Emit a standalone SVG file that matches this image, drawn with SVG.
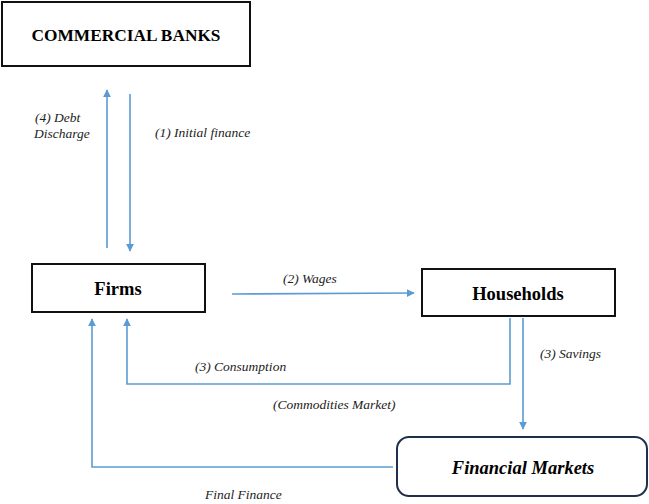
<svg xmlns="http://www.w3.org/2000/svg" width="649" height="504" viewBox="0 0 649 504">
<style>
.box{fill:#fff;stroke:#111;stroke-width:2}
.fm{fill:#fff;stroke:#1f2f4a;stroke-width:2}
.title{font-family:"Liberation Serif",serif;font-weight:bold;fill:#000;text-anchor:middle}
.lbl{font-family:"Liberation Serif",serif;font-style:italic;font-size:13.5px;fill:#222}
.con{fill:none;stroke:#5b9bd5;stroke-width:1.6}
</style>
<defs>
<marker id="ah" viewBox="0 0 10 10" refX="9" refY="5" markerWidth="5" markerHeight="5" orient="auto" markerUnits="strokeWidth">
<path d="M0,0 L10,5 L0,10 z" fill="#5b9bd5"/>
</marker>
</defs>
<rect width="649" height="504" fill="#fff"/>
<g id="connectors">
<path class="con" d="M107,248 V90" marker-end="url(#ah)"/>
<path class="con" d="M130,94 V251" marker-end="url(#ah)"/>
<path class="con" d="M232,294 L414,293" marker-end="url(#ah)"/>
<path class="con" d="M510,318 V384 H127 V319" marker-end="url(#ah)"/>
<path class="con" d="M523,318 V429" marker-end="url(#ah)"/>
<path class="con" d="M393,467 H92 V319" marker-end="url(#ah)"/>
<text class="lbl" x="35" y="122">(4) Debt</text>
<text class="lbl" x="34" y="138">Discharge</text>
<text class="lbl" x="155" y="137">(1) Initial finance</text>
<text class="lbl" x="283" y="283">(2) Wages</text>
<text class="lbl" x="195" y="371">(3) Consumption</text>
<text class="lbl" x="540" y="358">(3) Savings</text>
<text class="lbl" x="273" y="409">(Commodities Market)</text>
<text class="lbl" x="205" y="499">Final Finance</text>
</g>
<g id="commercial-banks">
<rect class="box" x="2" y="2" width="248" height="64"/>
<text class="title" x="126" y="41" font-size="17" textLength="189" lengthAdjust="spacingAndGlyphs">COMMERCIAL BANKS</text>
</g>
<g id="firms">
<rect class="box" x="32" y="264" width="173" height="48"/>
<text class="title" x="118" y="295" font-size="18.5">Firms</text>
</g>
<g id="households">
<rect class="box" x="422" y="269" width="193" height="47"/>
<text class="title" x="518" y="300" font-size="18.5">Households</text>
</g>
<g id="financial-markets">
<rect class="fm" x="397" y="437" width="250" height="59" rx="12" ry="12"/>
<text class="title" x="523" y="474" font-size="18.5" font-style="italic">Financial Markets</text>
</g>
</svg>
